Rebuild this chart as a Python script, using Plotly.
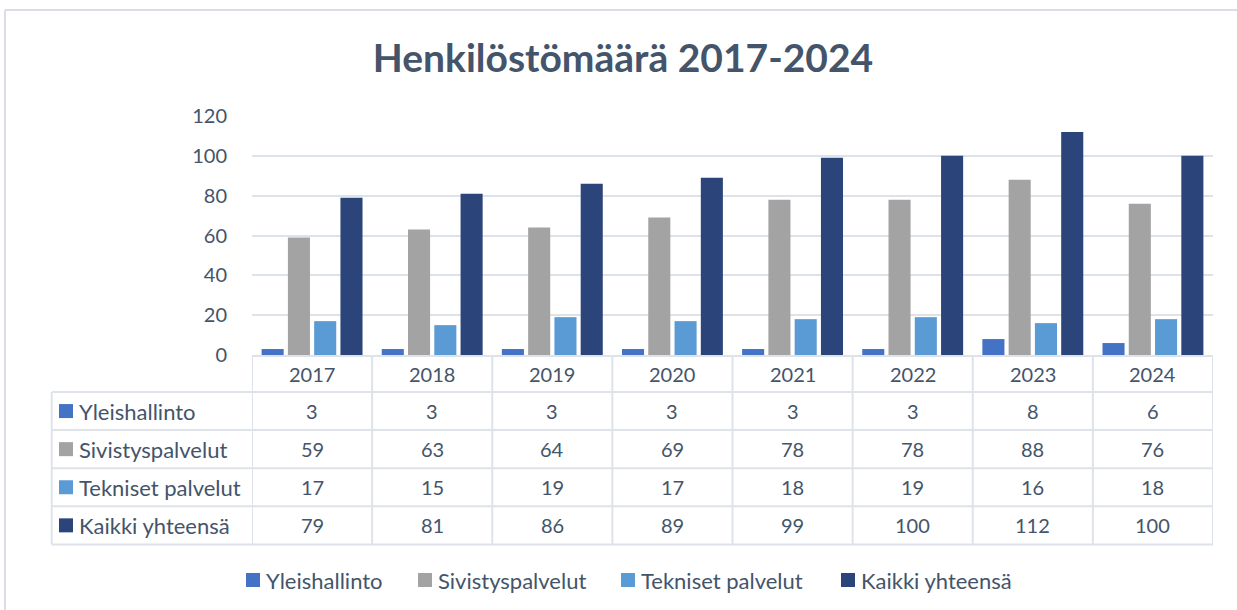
import plotly.graph_objects as go

years = ["2017", "2018", "2019", "2020", "2021", "2022", "2023", "2024"]
series_names = ["Yleishallinto", "Sivistyspalvelut", "Tekniset palvelut", "Kaikki yhteensä"]
yleishallinto = [3, 3, 3, 3, 3, 3, 8, 6]
sivistyspalvelut = [59, 63, 64, 69, 78, 78, 88, 76]
tekniset_palvelut = [17, 15, 19, 17, 18, 19, 16, 18]
kaikki_yhteensa = [79, 81, 86, 89, 99, 100, 112, 100]
y_ticks = [0, 20, 40, 60, 80, 100, 120]

series_values = [yleishallinto, sivistyspalvelut, tekniset_palvelut, kaikki_yhteensa]
colors = ["#4472c4", "#a3a3a3", "#5b9bd5", "#2b4479"]

FONT = "Lato"
TXT = "#44546a"
LINE = "#dee3ea"
LBL_SIZE = 22
NUM_SIZE = 20

W, H = 1237, 610
L, R, T, B = 252, 24, 116, 255
PW, PH = W - L - R, H - T - B


def px_x(px):
    return (px - L) / PW


def px_y(py):
    return (H - B - py) / PH


fig = go.Figure()
for name, vals, col in zip(series_names, series_values, colors):
    fig.add_trace(go.Bar(
        x=list(range(len(years))), y=vals, name=name,
        marker=dict(color=col, line=dict(width=0)),
        showlegend=False,
    ))

shapes = []
annotations = []

# table geometry (pixels)
header_bottom = 392
row_h = 38.1
row_lines = [header_bottom + row_h * k for k in range(len(series_names) + 1)]
left_px = 51.7

for yl in row_lines:
    shapes.append(dict(type="line", xref="paper", yref="paper",
                       x0=px_x(left_px), x1=1, y0=px_y(yl), y1=px_y(yl),
                       line=dict(color=LINE, width=2)))
for i in range(len(years) + 1):
    shapes.append(dict(type="line", xref="x", yref="paper",
                       x0=i - 0.5, x1=i - 0.5, y0=0, y1=px_y(row_lines[-1]),
                       line=dict(color=LINE, width=2)))
shapes.append(dict(type="line", xref="paper", yref="paper",
                   x0=px_x(left_px), x1=px_x(left_px),
                   y0=px_y(row_lines[0]), y1=px_y(row_lines[-1]),
                   line=dict(color=LINE, width=2)))

# outer chart border (left and top)
shapes.append(dict(type="line", xref="paper", yref="paper",
                   x0=px_x(5), x1=px_x(5), y0=px_y(10), y1=px_y(640),
                   line=dict(color="#d9dee6", width=2)))
shapes.append(dict(type="line", xref="paper", yref="paper",
                   x0=px_x(5), x1=px_x(1260), y0=px_y(10), y1=px_y(10),
                   line=dict(color="#d9dee6", width=2)))

# header row years
for i, yr in enumerate(years):
    annotations.append(dict(x=i, y=px_y(374), xref="x", yref="paper",
                            text=yr, showarrow=False,
                            font=dict(family=FONT, size=NUM_SIZE, color=TXT),
                            xanchor="center", yanchor="middle"))

# data rows
for r, (name, vals, col) in enumerate(zip(series_names, series_values, colors)):
    cy = (row_lines[r] + row_lines[r + 1]) / 2
    shapes.append(dict(type="rect", xref="paper", yref="paper",
                       x0=px_x(59), x1=px_x(73), y0=px_y(cy - 7), y1=px_y(cy + 7),
                       fillcolor=col, line=dict(width=0)))
    annotations.append(dict(x=px_x(77), y=px_y(cy), xref="paper", yref="paper",
                            text=name, showarrow=False,
                            font=dict(family=FONT, size=LBL_SIZE, color=TXT),
                            xanchor="left", yanchor="middle"))
    for i, v in enumerate(vals):
        annotations.append(dict(x=i, y=px_y(cy), xref="x", yref="paper",
                                text=str(v), showarrow=False,
                                font=dict(family=FONT, size=NUM_SIZE, color=TXT),
                                xanchor="center", yanchor="middle"))

# bottom legend (square + label per series)
legend_square_px = [246, 418, 621, 841]
legend_cy = 580
for name, col, sx in zip(series_names, colors, legend_square_px):
    shapes.append(dict(type="rect", xref="paper", yref="paper",
                       x0=px_x(sx), x1=px_x(sx + 14),
                       y0=px_y(legend_cy - 7), y1=px_y(legend_cy + 7),
                       fillcolor=col, line=dict(width=0)))
    annotations.append(dict(x=px_x(sx + 18), y=px_y(legend_cy), xref="paper", yref="paper",
                            text=name, showarrow=False,
                            font=dict(family=FONT, size=LBL_SIZE, color=TXT),
                            xanchor="left", yanchor="middle"))

fig.update_layout(
    width=W, height=H,
    margin=dict(l=L, r=R, t=T, b=B),
    paper_bgcolor="white", plot_bgcolor="white",
    showlegend=False,
    title=dict(text="<b>Henkilöstömäärä 2017-2024</b>", x=623 / W, y=1 - 58 / H,
               xref="container", yref="container", xanchor="center", yanchor="middle",
               font=dict(family=FONT, size=39, color=TXT)),
    barmode="group", bargap=0.125, bargroupgap=0.16,
    xaxis=dict(range=[-0.5, len(years) - 0.5], showticklabels=False, showgrid=False,
               zeroline=False, showline=True, linecolor=LINE, linewidth=2, ticks=""),
    yaxis=dict(range=[0, 120], tickvals=y_ticks, showgrid=True, gridcolor=LINE, gridwidth=2,
               zeroline=False, showline=False, ticks="", ticklabelstandoff=24,
               tickfont=dict(family=FONT, size=NUM_SIZE, color=TXT)),
    shapes=shapes, annotations=annotations,
)

fig.write_html("out.html", config={"displayModeBar": False},
               post_script="document.body.style.margin='0px';")
